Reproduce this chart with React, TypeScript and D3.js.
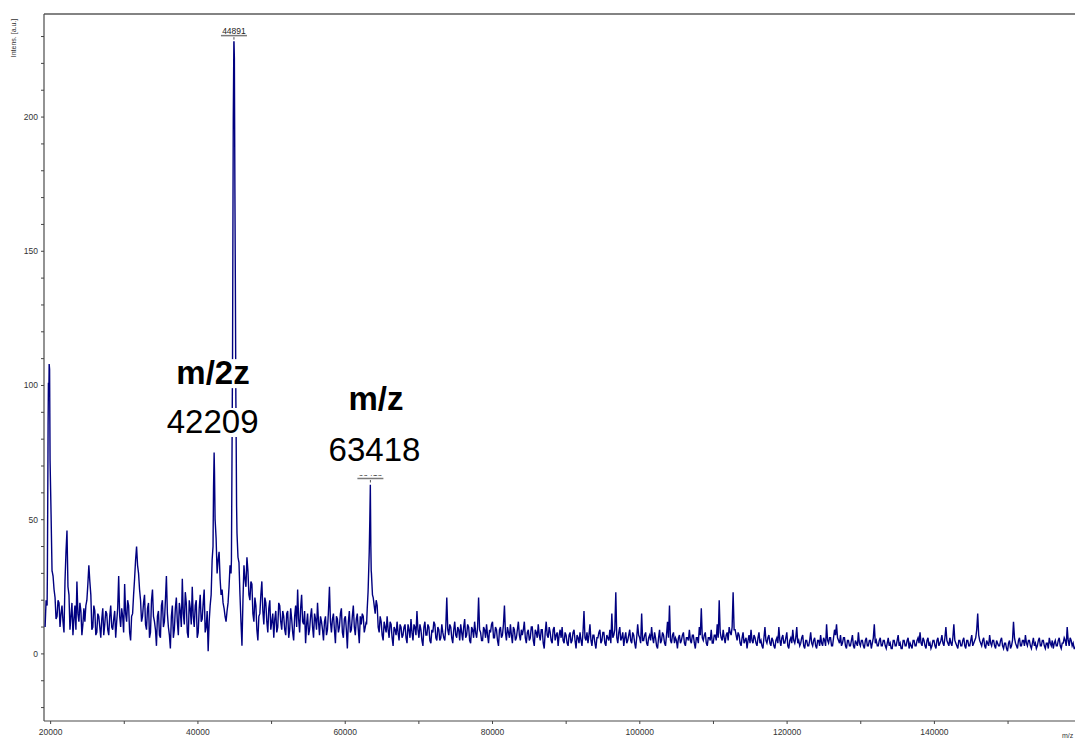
import React from "react";
import * as d3 from "d3";

// Spectrum sampled on a regular m/z grid (even samples) ...
const MZ_START = 19250;
const MZ_STEP = 270;
const intensity = [
  10, 18, 105, 52, 29, 21, 14, 19, 15, 12, 27, 46, 22, 14, 7, 18, 27, 12, 16, 11,
  12, 20, 33, 22, 10, 16, 8, 14, 6, 17, 11, 15, 7, 18, 9, 16, 12, 29, 10, 14,
  26, 12, 18, 5, 15, 28, 40, 30, 20, 14, 22, 9, 19, 8, 24, 12, 3, 16, 6, 20,
  12, 29, 10, 2, 18, 9, 21, 7, 16, 28, 11, 19, 6, 17, 25, 10, 20, 8, 22, 13,
  24, 10, 1, 18, 35, 75, 43, 35, 28, 24, 17, 12, 19, 33, 75, 228, 90, 36, 22, 3,
  33, 25, 31, 20, 26, 12, 18, 5, 15, 27, 11, 19, 8, 20, 12, 6, 16, 10, 18, 9,
  14, 7, 16, 9, 13, 5, 18, 24, 8, 22, 11, 4, 15, 9, 17, 6, 13, 19, 7, 12,
  5, 14, 9, 25, 8, 15, 4, 13, 10, 17, 6, 14, 2, 16, 9, 18, 7, 15, 4, 11,
  14, 10, 17, 38, 31, 21, 15, 18, 8, 12, 5, 10, 14, 6, 11, 3, 9, 12, 5, 10,
  7, 11, 4, 9, 13, 5, 10, 16, 6, 9, 3, 12, 7, 10, 4, 8, 11, 5, 9, 6,
  8, 5, 21, 7, 10, 4, 12, 6, 9, 11, 5, 13, 7, 10, 4, 9, 12, 6, 21, 8,
  5, 9, 11, 4, 8, 12, 6, 9, 3, 10, 7, 18, 5, 8, 11, 4, 9, 6, 12, 5,
  7, 12, 4, 9, 6, 10, 3, 8, 11, 5, 9, 2, 12, 6, 8, 4, 10, 7, 3, 9,
  10, 4, 7, 3, 8, 5, 9, 2, 6, 8, 3, 16, 5, 4, 11, 3, 7, 2, 6, 9,
  5, 8, 3, 6, 9, 15, 7, 23, 4, 10, 6, 3, 8, 5, 9, 4, 7, 2, 11, 6,
  15, 5, 8, 3, 7, 10, 4, 6, 2, 9, 5, 7, 3, 12, 18, 4, 8, 6, 2, 7,
  5, 8, 3, 6, 9, 4, 7, 2, 6, 10, 17, 5, 8, 3, 6, 9, 4, 7, 11, 20,
  6, 9, 4, 8, 10, 7, 23, 9, 5, 7, 3, 8, 5, 2, 7, 9, 4, 6, 3, 8,
  5, 2, 10, 4, 7, 3, 5, 2, 6, 10, 3, 7, 4, 8, 2, 6, 9, 4, 10, 5,
  4, 7, 2, 5, 3, 8, 3, 6, 2, 5, 7, 3, 5, 11, 4, 6, 3, 9, 11, 5,
  7, 4, 6, 2, 5, 3, 7, 2, 4, 8, 3, 5, 2, 6, 3, 5, 4, 11, 5, 3,
  6, 3, 5, 2, 6, 4, 2, 5, 3, 7, 4, 2, 5, 3, 6, 4, 2, 5, 3, 6,
  8, 3, 5, 2, 6, 4, 3, 5, 2, 6, 4, 7, 3, 10, 4, 6, 3, 11, 4, 2,
  5, 3, 6, 2, 5, 3, 7, 4, 6, 15, 5, 3, 6, 2, 4, 7, 3, 5, 2, 4,
  3, 6, 2, 4, 1, 5, 3, 12, 4, 2, 6, 3, 5, 7, 3, 5, 2, 6, 4, 3,
  6, 3, 5, 2, 4, 6, 3, 2, 5, 3, 6, 2, 4, 5, 10, 3, 5, 4, 2, 5,
];

// ... and the samples halfway between them
const intensityMid = [
  20, 85, 72, 31, 24, 13, 20, 10, 18, 8, 38, 25, 9, 19, 13, 9, 15, 19, 7, 17,
  18, 26, 27, 9, 18, 7, 15, 10, 13, 7, 16, 9, 14, 10, 13, 6, 17, 14, 17, 8,
  15, 20, 8, 14, 22, 35, 33, 24, 12, 19, 11, 17, 6, 20, 14, 9, 14, 7, 18, 10,
  20, 15, 7, 14, 6, 17, 12, 19, 10, 15, 23, 8, 20, 11, 14, 18, 6, 17, 12, 19,
  8, 16, 12, 22, 45, 50, 30, 38, 22, 19, 14, 16, 25, 30, 170, 165, 45, 34, 12, 20,
  28, 36, 22, 27, 15, 21, 9, 14, 22, 16, 21, 12, 17, 9, 15, 13, 8, 19, 12, 16,
  9, 15, 6, 17, 8, 14, 10, 13, 17, 12, 16, 11, 7, 14, 10, 15, 9, 12, 14, 9,
  12, 7, 16, 12, 13, 9, 14, 8, 15, 8, 13, 9, 12, 8, 14, 10, 13, 9, 14, 15,
  8, 12, 25, 60, 24, 18, 20, 10, 14, 7, 12, 8, 9, 12, 6, 10, 7, 8, 11, 6,
  10, 6, 11, 6, 8, 11, 7, 9, 11, 5, 10, 7, 11, 5, 9, 12, 6, 10, 5, 11,
  6, 10, 9, 11, 6, 9, 7, 10, 5, 8, 10, 6, 11, 5, 10, 6, 8, 10, 9, 5,
  10, 6, 7, 9, 11, 6, 10, 5, 9, 6, 11, 8, 10, 6, 7, 10, 5, 9, 7, 9,
  9, 6, 8, 5, 10, 5, 9, 6, 7, 9, 4, 8, 7, 10, 5, 9, 5, 8, 7, 6,
  5, 8, 4, 7, 4, 8, 5, 7, 4, 5, 8, 6, 8, 7, 5, 7, 4, 6, 8, 4,
  8, 4, 7, 5, 4, 6, 9, 6, 8, 5, 8, 6, 4, 7, 5, 8, 4, 6, 7, 4,
  5, 7, 4, 6, 5, 6, 8, 3, 6, 4, 8, 4, 7, 6, 5, 7, 4, 5, 6, 4,
  7, 4, 6, 5, 5, 7, 4, 6, 4, 7, 6, 7, 4, 6, 5, 4, 7, 5, 6, 8,
  5, 6, 7, 5, 8, 10, 9, 7, 8, 4, 6, 4, 6, 5, 4, 5, 7, 4, 6, 4,
  3, 6, 5, 6, 4, 6, 3, 5, 4, 5, 6, 4, 6, 3, 5, 4, 5, 6, 4, 3,
  6, 3, 5, 3, 5, 4, 5, 3, 5, 3, 4, 6, 3, 5, 6, 3, 6, 7, 6, 4,
  3, 6, 3, 5, 3, 5, 3, 5, 3, 4, 5, 3, 5, 3, 5, 2, 6, 4, 3, 5,
  3, 5, 3, 4, 3, 2, 5, 3, 5, 3, 2, 5, 3, 5, 2, 3, 5, 3, 5, 4,
  4, 6, 3, 5, 3, 2, 5, 3, 5, 3, 5, 4, 6, 5, 3, 4, 6, 5, 3, 5,
  3, 5, 3, 5, 3, 5, 3, 5, 9, 7, 4, 5, 3, 5, 3, 4, 5, 3, 5, 3,
  5, 3, 4, 2, 4, 2, 5, 6, 3, 5, 3, 5, 3, 4, 5, 3, 4, 3, 2, 5,
  3, 5, 3, 4, 2, 4, 5, 4, 3, 5, 3, 4, 6, 3, 5, 6, 3, 2, 4, 3,
];

// Extra profile points across the sharp peaks
const peakMz = [
  19560, 19640, 19700, 19750, 19800, 19860, 19930, 20190,
  42050, 42120, 42250, 42330,
  44550, 44700, 44800, 44880, 44950, 45020, 45080, 45150, 45250,
  62900, 63100, 63340, 63410, 63480, 63560, 63700,
];
const peakIntensity = [
  30, 75, 101, 96, 108, 106, 71, 31,
  40, 62, 68, 50,
  35, 110, 200, 228, 222, 173, 140, 95, 55,
  11, 23, 50, 63, 40, 30, 22,
];

// Automatic peak labels
const labelMz = [44891, 63418];
const labelTop = [228, 63];
const labelText = ["44891", "63418"];

// Axis ticks
const xMajorTicks = [20000, 40000, 60000, 80000, 100000, 120000, 140000];
const xMinorTicks = [30000, 50000, 70000, 90000, 110000, 130000, 150000];
const yMajorTicks = [0, 50, 100, 150, 200];
const yMinorTicks = [-20, -10, 10, 20, 30, 40, 60, 70, 80, 90, 110, 120, 130, 140, 160, 170, 180, 190, 210, 220, 230];

// Hand-placed annotations (text, centre m/z, baseline intensity, bold)
const noteText = ["m/2z", "42209", "m/z", "63418"];
const noteMz = [42046, 42000, 64178, 63974];
const noteBaseline = [100.5, 82.3, 90.9, 71.9];
const noteBold = [true, false, true, false];

const W = 1075;
const H = 740;
const FONT = "'Liberation Sans', Arial, sans-serif";

export default function App() {
  const x = d3.scaleLinear().domain([19100, 160000]).range([44, 1081.7]);
  const y = d3.scaleLinear().domain([-25, 238.4]).range([721, 14]);

  const points: [number, number][] = intensity
    .map((v, i) => [MZ_START + i * MZ_STEP, v] as [number, number])
    .concat(intensityMid.map((v, i) => [MZ_START + MZ_STEP / 2 + i * MZ_STEP, v] as [number, number]))
    .concat(peakMz.map((m, i) => [m, peakIntensity[i]] as [number, number]))
    .sort((a, b) => a[0] - b[0]);

  const line = d3
    .line<[number, number]>()
    .x((d) => x(d[0]))
    .y((d) => y(d[1]));

  const left = x.range()[0];
  const right = x.range()[1];
  const top = y.range()[1];
  const bottom = y.range()[0];

  const labelLineY = (i: number) => y(labelTop[i]) - 6.3;

  return (
    <svg
      width={W}
      height={H}
      style={{ position: "absolute", left: 0, top: 0, background: "#fff" }}
      fontFamily={FONT}
    >
      <defs>
        <clipPath id="plot-clip">
          <rect x={left} y={top} width={right - left} height={bottom - top} />
        </clipPath>
      </defs>

      {/* frame */}
      <line x1={left} x2={right} y1={top} y2={top} stroke="#5a5a5a" strokeWidth={1.5} />
      <line x1={left} x2={left} y1={top} y2={bottom} stroke="#4a4a4a" strokeWidth={1.2} />
      <line x1={left} x2={right} y1={bottom} y2={bottom} stroke="#4a4a4a" strokeWidth={1.2} />

      {/* y axis */}
      {yMinorTicks.map((t) => (
        <line key={"ym" + t} x1={left - 3} x2={left} y1={y(t)} y2={y(t)} stroke="#444" />
      ))}
      {yMajorTicks.map((t) => (
        <g key={"y" + t}>
          <line x1={left - 3} x2={left} y1={y(t)} y2={y(t)} stroke="#444" />
          <text x={left - 6} y={y(t) + 3} fontSize={8.5} textAnchor="end" fill="#333">
            {t}
          </text>
        </g>
      ))}
      <text transform={`translate(16,38) rotate(-90)`} fontSize={7} textAnchor="middle" fill="#333">
        Intens. [a.u.]
      </text>

      {/* x axis */}
      {xMinorTicks.map((t) => (
        <line key={"xm" + t} x1={x(t)} x2={x(t)} y1={bottom} y2={bottom + 3} stroke="#444" />
      ))}
      {xMajorTicks.map((t) => (
        <g key={"x" + t}>
          <line x1={x(t)} x2={x(t)} y1={bottom} y2={bottom + 3} stroke="#444" />
          <text x={x(t)} y={bottom + 13.5} fontSize={8.5} textAnchor="middle" fill="#333">
            {t}
          </text>
        </g>
      ))}
      <text x={1062} y={738} fontSize={7} fill="#333">
        m/z
      </text>

      {/* spectrum */}
      <path
        d={line(points) || ""}
        fill="none"
        stroke="#000080"
        strokeWidth={1.4}
        strokeLinejoin="miter"
        clipPath="url(#plot-clip)"
      />

      {/* peak labels */}
      {labelMz.map((m, i) => {
        const px = x(m);
        const ly = labelLineY(i);
        return (
          <g key={"pl" + m}>
            <text x={px} y={ly - 2} fontSize={8.5} textAnchor="middle" fill="#222">
              {labelText[i]}
            </text>
            <line x1={px - 13} x2={px + 13} y1={ly} y2={ly} stroke="#7a7a7a" strokeWidth={1.5} />
            <line x1={px} x2={px} y1={ly + 1.5} y2={ly + 4} stroke="#555" />
          </g>
        );
      })}

      {/* annotations with white text boxes */}
      {noteText.map((t, i) => {
        const cx = x(noteMz[i]);
        const by = y(noteBaseline[i]);
        const fs = 33;
        const w = t.length * 19 + 4;
        const boxTop = by - 25;
        // the last box overlaps the small 63418 peak label, leaving only its foot visible
        const boxBottom = i === 3 ? labelLineY(1) - 3.3 : by + 4;
        return (
          <g key={"n" + i}>
            <rect x={cx - w / 2} y={boxTop} width={w} height={boxBottom - boxTop} fill="#fff" />
            <text
              x={cx}
              y={by}
              fontSize={fs}
              fontWeight={noteBold[i] ? "bold" : "normal"}
              textAnchor="middle"
              fill="#000"
            >
              {t}
            </text>
          </g>
        );
      })}
    </svg>
  );
}
